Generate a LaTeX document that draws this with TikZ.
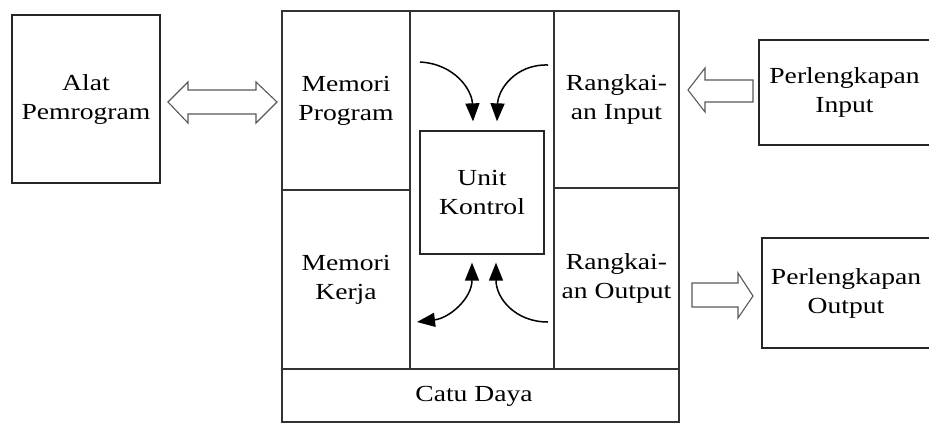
\documentclass[tikz,border=0pt]{standalone}
\usepackage{fontspec}
\setmainfont{Liberation Serif}[FakeStretch=1.2]
\usetikzlibrary{arrows.meta}
\tikzset{
  box/.style={draw=black!85, line width=1.3pt, rectangle, inner sep=0pt,
              align=center, font=\fontsize{23}{29}\selectfont},
  cell/.style={draw=black!80, line width=1.1pt, rectangle, inner sep=0pt,
              align=center, font=\fontsize{23}{29}\selectfont},
  hollow/.style={draw=black!65, line width=1.1pt, fill=white, line join=miter},
  flowtip/.tip={Triangle[length=18pt,width=14pt]},
  flow/.style={line width=1.5pt, -flowtip},
  flowboth/.style={line width=1.5pt, flowtip-flowtip}
}
\begin{document}
\begin{tikzpicture}[x=1pt,y=-1pt]
\useasboundingbox[fill=white] (0,0) rectangle (929,424);

% programmer device
\node[box, minimum width=148pt, minimum height=168pt] (ap) at (86,99) {Alat\\Pemrogram};

% microcontroller block
\node[cell, minimum width=144pt, minimum height=358pt] (mid) at (482,190) {};
\node[cell, minimum width=128pt, minimum height=179pt] (mp) at (346,100.5) {Memori\\Program};
\node[cell, minimum width=128pt, minimum height=179pt] (mk) at (346,279.5) {Memori\\Kerja};
\node[cell, minimum width=125pt, minimum height=177pt] (ri) at (616.5,99.5) {Rangkai-\\an Input};
\node[cell, minimum width=125pt, minimum height=181pt] (ro) at (616.5,278.5) {Rangkai-\\an Output};
\node[cell, minimum width=397pt, minimum height=53pt] (cd) at (480.5,395.5) {};
\node[font=\fontsize{23}{29}\selectfont, inner sep=0pt] (cdt) at (474,396) {Catu Daya};
\node[box, minimum width=124pt, minimum height=123pt] (uk) at (482,192.5) {Unit\\Kontrol};

% peripherals
\node[box, minimum width=171pt, minimum height=105pt, text width=171pt] (pi) at (844.5,92.5) {Perlengkapan\\Input};
\node[box, minimum width=168pt, minimum height=110pt, text width=168pt] (po) at (846,293) {Perlengkapan\\Output};

% hollow block arrows
\draw[hollow] (168,102) -- (188,82) -- (188,90) -- (256,90) -- (256,82) -- (277,102)
  -- (256,123) -- (256,114) -- (188,114) -- (188,123) -- cycle;
\draw[hollow] (688,90) -- (705,68) -- (705,80) -- (753,80) -- (753,102) -- (705,102)
  -- (705,112) -- cycle;
\draw[hollow] (692,283) -- (738,283) -- (738,273) -- (753,296) -- (738,318) -- (738,307)
  -- (692,307) -- cycle;

% control flow inside the block
\coordinate (a1) at (420,62);
\coordinate (a2) at (548,65);
\coordinate (a3) at (417,322);
\coordinate (a4) at (548,322);
\coordinate (t1) at ([xshift=-9pt,yshift=9pt]uk.north);
\coordinate (t2) at ([xshift=15pt,yshift=9pt]uk.north);
\coordinate (t3) at ([xshift=-10pt,yshift=-8pt]uk.south);
\coordinate (t4) at ([xshift=14pt,yshift=-8pt]uk.south);

\draw[flow] (a1) .. controls (455,64) and (472,90) .. (t1);
\draw[flow] (a2) .. controls (515,64) and (498,90) .. (t2);
\draw[flowboth] (t3) .. controls (472,298) and (450,318) .. (a3);
\draw[flow] (a4) .. controls (515,322) and (496,298) .. (t4);
\end{tikzpicture}
\end{document}
